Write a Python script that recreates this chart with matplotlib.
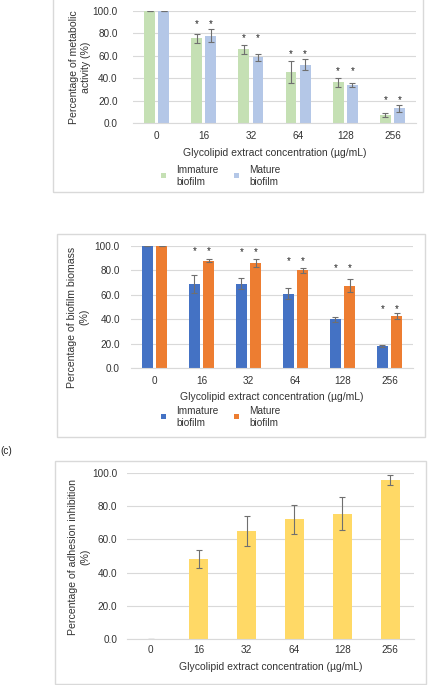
import numpy as np
import matplotlib
matplotlib.use("Agg")
import matplotlib.pyplot as plt
from matplotlib.patches import Rectangle

plt.rcParams['font.family'] = ['Liberation Sans', 'DejaVu Sans']

conc = ["0", "16", "32", "64", "128", "256"]

# (a) metabolic activity
immature_act = [100, 75.5, 66, 45.5, 36.5, 7]
immature_act_err = [0, 4, 4, 9.5, 4, 2]
mature_act = [100, 78, 58.5, 52, 34, 13]
mature_act_err = [0, 5.5, 3, 5, 1.5, 3]
star_act = [None, 88, 76, 61.5, 46.5, 20.5]

# (b) biofilm biomass
immature_bio = [100, 69, 69, 61, 40, 18]
immature_bio_err = [0, 7.5, 4.5, 4.5, 2, 0.5]
mature_bio = [100, 88, 86, 80, 67.5, 42.5]
mature_bio_err = [0, 1.5, 3, 2, 5.5, 2.5]
star_bio = [None, 95.5, 95, 88, 82, 48]

# (c) adhesion inhibition
adhesion = [0.3, 48, 65, 72, 75.5, 95.5]
adhesion_err = [0, 5.5, 9, 9, 10, 3]

W, H = 428, 685
fig = plt.figure(figsize=(W / 100, H / 100), dpi=100)

grid_c = "#d9d9d9"
err_c = "#6f6f6f"
txt_c = "#333333"
fs = 7.2


def px_axes(left, right, top, bottom):
    return fig.add_axes([left / W, (H - bottom) / H, (right - left) / W, (bottom - top) / H])


def box(x0, x1, y0, y1):
    fig.add_artist(Rectangle((x0 / W, (H - y1) / H), (x1 - x0) / W, (y1 - y0) / H,
                             transform=fig.transFigure, fill=False, edgecolor=grid_c, lw=1.0))


def style(ax, ylab, ylab_x, ylab_y, ypad, xpad, lpad):
    ax.set_ylim(0, 100)
    ax.set_xlim(-0.5, 5.5)
    ax.set_yticks(np.arange(0, 101, 20))
    ax.set_yticklabels([f"{v:.1f}" for v in np.arange(0, 101, 20)], fontsize=fs, color=txt_c)
    ax.set_xticks(range(6))
    ax.set_xticklabels(conc, fontsize=fs, color=txt_c)
    ax.tick_params(length=0)
    ax.tick_params(axis="y", pad=ypad)
    ax.tick_params(axis="x", pad=xpad)
    ax.grid(axis="y", color=grid_c, lw=0.8)
    ax.set_axisbelow(True)
    for s in ["top", "right", "left"]:
        ax.spines[s].set_visible(False)
    ax.spines["bottom"].set_color(grid_c)
    ax.spines["bottom"].set_linewidth(0.8)
    ax.set_xlabel("Glycolipid extract concentration (µg/mL)", fontsize=7.5, color=txt_c, labelpad=lpad)
    fig.text(ylab_x / W, (H - ylab_y) / H, ylab, rotation=90, ha="center", va="center",
             fontsize=7.6, color=txt_c, multialignment="center", linespacing=1.3)


def pair(ax, a, ae, b, be, ca, cb, stars):
    x = np.arange(6)
    ek = dict(ecolor=err_c, elinewidth=0.8, capsize=2.2, capthick=0.8)
    ax.bar(x - 0.15, a, 0.23, color=ca, yerr=ae, error_kw=ek)
    ax.bar(x + 0.15, b, 0.23, color=cb, yerr=be, error_kw=ek)
    for i, s in enumerate(stars):
        if s is None:
            continue
        for dx in (-0.15, 0.15):
            ax.text(i + dx, s, "*", ha="center", va="center", fontsize=7, color="#222222")


def legend(y_top, ca, cb):
    for x_sq, x_txt, c, lab in [(163, 176, ca, "Immature\nbiofilm"), (236, 249, cb, "Mature\nbiofilm")]:
        fig.add_artist(Rectangle(((x_sq - 2.5) / W, (H - y_top - 13) / H), 5 / W, 5 / H,
                                 transform=fig.transFigure, color=c, lw=0))
        fig.text(x_txt / W, (H - y_top) / H, lab, ha="left", va="top", fontsize=fs,
                 color=txt_c, linespacing=1.2)


# panel (a)
box(53, 423, -1, 192)
ax1 = px_axes(133, 416, 11, 123)
pair(ax1, immature_act, immature_act_err, mature_act, mature_act_err, "#c5e0b4", "#b4c7e7", star_act)
style(ax1, "Percentage of metabolic\nactivity (%)", 80, 67, 11, 6, 4.5)
legend(165, "#c5e0b4", "#b4c7e7")

# panel (b)
box(57, 425, 234, 437)
ax2 = px_axes(131, 413, 246, 368)
pair(ax2, immature_bio, immature_bio_err, mature_bio, mature_bio_err, "#4472c4", "#ed7d31", star_bio)
style(ax2, "Percentage of biofilm biomass\n(%)", 78, 317, 8, 6, 4)
legend(406, "#4472c4", "#ed7d31")

# panel (c)
fig.text(0.5 / W, (H - 451) / H, "(c)", ha="left", va="center", fontsize=fs, color="#222222")
box(55, 426, 461, 684)
ax3 = px_axes(127, 414, 473, 639)
ax3.bar(np.arange(6), adhesion, 0.4, color="#ffd966", yerr=adhesion_err,
        error_kw=dict(ecolor=err_c, elinewidth=0.8, capsize=2.2, capthick=0.8))
style(ax3, "Percentage of adhesion inhibition\n(%)", 79, 557, 7, 4.5, 5)

fig.savefig("out.png", dpi=100)
